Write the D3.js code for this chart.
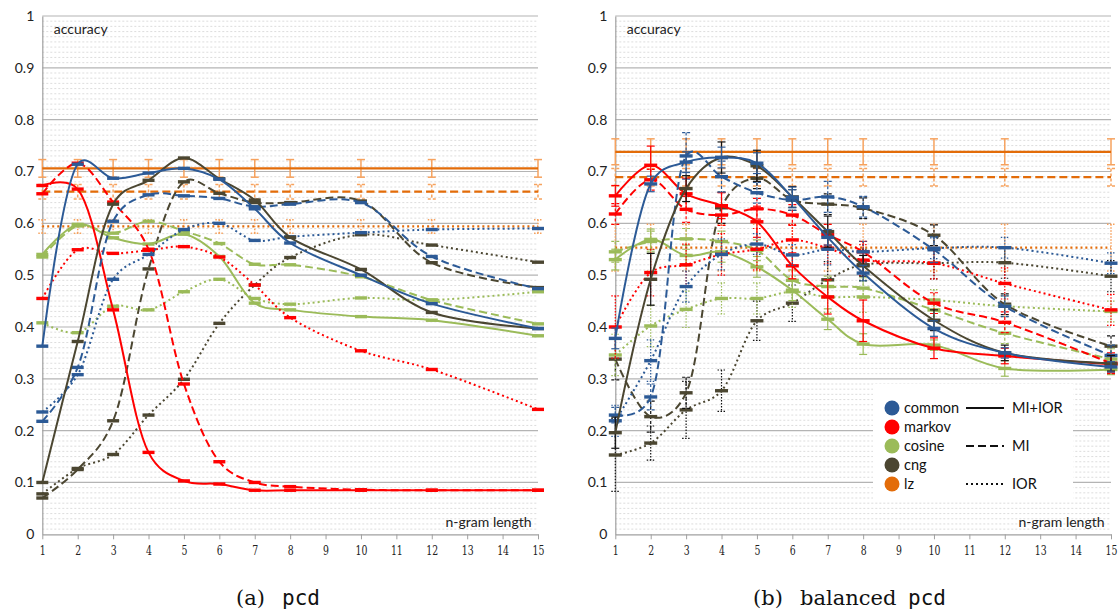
<!DOCTYPE html>
<html>
<head>
<meta charset="utf-8">
<script src="https://cdn.jsdelivr.net/npm/d3@7"></script>
<style>
  html, body { margin: 0; padding: 0; background: #fff; }
  svg { display: block; }
</style>
</head>
<body>
<svg id="chart" width="1119" height="611"></svg>
<script>
// ---- data -------------------------------------------------------------
const nGram = [1, 2, 3, 4, 5, 6, 7, 8, 10, 12, 15];
const xTickLabels = [1, 2, 3, 4, 5, 6, 7, 8, 9, 10, 11, 12, 13, 14, 15];
const yTickValues = [0, 0.1, 0.2, 0.3, 0.4, 0.5, 0.6, 0.7, 0.8, 0.9, 1];

const methods = ["common", "markov", "cosine", "cng", "lz"];
const methodColors = ["#2C5A96", "#FF0000", "#9BBB59", "#4B4631", "#E36C09"];
const variants = ["MI+IOR", "MI", "IOR"];

// (a) pcd
const pcdCommonBoth = [0.363, 0.714, 0.687, 0.697, 0.706, 0.685, 0.628, 0.562, 0.500, 0.445, 0.397];
const pcdCommonMI   = [0.218, 0.322, 0.604, 0.655, 0.653, 0.648, 0.632, 0.637, 0.640, 0.536, 0.474];
const pcdCommonIOR  = [0.236, 0.308, 0.492, 0.540, 0.588, 0.600, 0.567, 0.574, 0.582, 0.588, 0.590];
const pcdMarkovBoth = [0.673, 0.666, 0.433, 0.158, 0.103, 0.097, 0.085, 0.085, 0.085, 0.085, 0.085];
const pcdMarkovMI   = [0.657, 0.716, 0.641, 0.550, 0.290, 0.140, 0.100, 0.092, 0.086, 0.085, 0.085];
const pcdMarkovIOR  = [0.455, 0.549, 0.542, 0.548, 0.555, 0.535, 0.481, 0.418, 0.354, 0.318, 0.241];
const pcdCosineBoth = [0.540, 0.598, 0.572, 0.560, 0.579, 0.536, 0.446, 0.433, 0.420, 0.413, 0.383];
const pcdCosineMI   = [0.535, 0.595, 0.581, 0.604, 0.585, 0.561, 0.521, 0.520, 0.497, 0.452, 0.406];
const pcdCosineIOR  = [0.408, 0.389, 0.440, 0.433, 0.468, 0.492, 0.455, 0.444, 0.456, 0.452, 0.468];
const pcdCngBoth    = [0.100, 0.372, 0.637, 0.683, 0.726, 0.686, 0.645, 0.573, 0.511, 0.428, 0.397];
const pcdCngMI      = [0.070, 0.125, 0.219, 0.512, 0.680, 0.658, 0.640, 0.640, 0.643, 0.524, 0.476];
const pcdCngIOR     = [0.078, 0.127, 0.154, 0.230, 0.299, 0.407, 0.481, 0.534, 0.578, 0.558, 0.525];
const pcdLzBoth     = [0.706, 0.706, 0.706, 0.706, 0.706, 0.706, 0.706, 0.706, 0.706, 0.706, 0.706];
const pcdLzMI       = [0.661, 0.661, 0.661, 0.661, 0.661, 0.661, 0.661, 0.661, 0.661, 0.661, 0.661];
const pcdLzIOR      = [0.594, 0.594, 0.594, 0.594, 0.594, 0.594, 0.594, 0.594, 0.594, 0.594, 0.594];
const pcdLzBothErr  = [0.017, 0.017, 0.017, 0.017, 0.017, 0.017, 0.017, 0.017, 0.017, 0.017, 0.017];
const pcdLzMIErr    = [0.014, 0.014, 0.014, 0.014, 0.014, 0.014, 0.014, 0.014, 0.014, 0.014, 0.014];
const pcdLzIORErr   = [0.013, 0.013, 0.013, 0.013, 0.013, 0.013, 0.013, 0.013, 0.013, 0.013, 0.013];

// (b) balanced pcd
const balCommonBoth = [0.378, 0.676, 0.718, 0.727, 0.716, 0.650, 0.573, 0.504, 0.397, 0.350, 0.323];
const balCommonMI   = [0.230, 0.265, 0.730, 0.690, 0.659, 0.645, 0.651, 0.632, 0.549, 0.440, 0.345];
const balCommonIOR  = [0.219, 0.335, 0.478, 0.540, 0.560, 0.539, 0.550, 0.545, 0.552, 0.553, 0.523];
const balMarkovBoth = [0.653, 0.712, 0.657, 0.634, 0.603, 0.518, 0.458, 0.412, 0.359, 0.344, 0.328];
const balMarkovMI   = [0.618, 0.684, 0.627, 0.616, 0.628, 0.616, 0.578, 0.545, 0.446, 0.409, 0.330];
const balMarkovIOR  = [0.400, 0.505, 0.520, 0.540, 0.550, 0.568, 0.552, 0.529, 0.523, 0.484, 0.433];
const balCosineBoth = [0.530, 0.569, 0.538, 0.545, 0.516, 0.471, 0.415, 0.367, 0.365, 0.320, 0.318];
const balCosineMI   = [0.545, 0.565, 0.570, 0.565, 0.548, 0.490, 0.478, 0.475, 0.433, 0.388, 0.338];
const balCosineIOR  = [0.346, 0.402, 0.434, 0.455, 0.455, 0.468, 0.458, 0.458, 0.452, 0.440, 0.430];
const balCngBoth    = [0.196, 0.492, 0.667, 0.727, 0.711, 0.651, 0.584, 0.518, 0.413, 0.350, 0.330];
const balCngMI      = [0.338, 0.227, 0.273, 0.630, 0.687, 0.645, 0.637, 0.629, 0.577, 0.444, 0.363];
const balCngIOR     = [0.153, 0.176, 0.240, 0.277, 0.412, 0.446, 0.491, 0.520, 0.523, 0.524, 0.498];
const balLzBoth     = [0.738, 0.738, 0.738, 0.738, 0.738, 0.738, 0.738, 0.738, 0.738, 0.738, 0.738];
const balLzMI       = [0.689, 0.689, 0.689, 0.689, 0.689, 0.689, 0.689, 0.689, 0.689, 0.689, 0.689];
const balLzIOR      = [0.553, 0.553, 0.553, 0.553, 0.553, 0.553, 0.553, 0.553, 0.553, 0.553, 0.553];

// standard deviations over the balanced folds
const balCommonBothErr = [0.020, 0.015, 0.020, 0.020, 0.020, 0.020, 0.015, 0.015, 0.015, 0.010, 0.010];
const balCommonMIErr   = [0.015, 0.025, 0.045, 0.030, 0.020, 0.020, 0.030, 0.020, 0.025, 0.020, 0.020];
const balCommonIORErr  = [0.030, 0.040, 0.030, 0.030, 0.020, 0.020, 0.030, 0.020, 0.020, 0.020, 0.020];
const balMarkovBothErr = [0.020, 0.037, 0.030, 0.025, 0.030, 0.025, 0.033, 0.040, 0.020, 0.015, 0.015];
const balMarkovMIErr   = [0.020, 0.020, 0.025, 0.020, 0.020, 0.020, 0.020, 0.020, 0.020, 0.020, 0.020];
const balMarkovIORErr  = [0.060, 0.045, 0.040, 0.040, 0.040, 0.030, 0.030, 0.030, 0.030, 0.030, 0.030];
const balCosineBothErr = [0.020, 0.020, 0.020, 0.020, 0.020, 0.020, 0.020, 0.020, 0.010, 0.015, 0.010];
const balCosineMIErr   = [0.020, 0.020, 0.020, 0.020, 0.020, 0.020, 0.020, 0.020, 0.020, 0.020, 0.020];
const balCosineIORErr  = [0.040, 0.040, 0.035, 0.030, 0.030, 0.030, 0.030, 0.030, 0.020, 0.020, 0.020];
const balCngBothErr    = [0.030, 0.050, 0.025, 0.030, 0.030, 0.020, 0.030, 0.020, 0.020, 0.015, 0.015];
const balCngMIErr      = [0.040, 0.030, 0.030, 0.030, 0.020, 0.020, 0.020, 0.020, 0.020, 0.020, 0.020];
const balCngIORErr     = [0.070, 0.033, 0.055, 0.040, 0.038, 0.035, 0.035, 0.030, 0.030, 0.030, 0.030];
const balLzBothErr     = [0.025, 0.025, 0.025, 0.025, 0.025, 0.025, 0.025, 0.025, 0.025, 0.025, 0.025];
const balLzMIErr       = [0.017, 0.017, 0.017, 0.017, 0.017, 0.017, 0.017, 0.017, 0.017, 0.017, 0.017];
const balLzIORErr      = [0.045, 0.045, 0.045, 0.045, 0.045, 0.045, 0.045, 0.045, 0.045, 0.045, 0.045];

// ---- series tables ------------------------------------------------------
// [method, variant, values, errors]
const pcdSeries = [
  ["lz", "IOR", pcdLzIOR, pcdLzIORErr],
  ["lz", "MI", pcdLzMI, pcdLzMIErr],
  ["lz", "MI+IOR", pcdLzBoth, pcdLzBothErr],
  ["cng", "IOR", pcdCngIOR, null],
  ["cng", "MI", pcdCngMI, null],
  ["cosine", "IOR", pcdCosineIOR, null],
  ["cosine", "MI", pcdCosineMI, null],
  ["cosine", "MI+IOR", pcdCosineBoth, null],
  ["markov", "IOR", pcdMarkovIOR, null],
  ["markov", "MI", pcdMarkovMI, null],
  ["markov", "MI+IOR", pcdMarkovBoth, null],
  ["common", "IOR", pcdCommonIOR, null],
  ["common", "MI", pcdCommonMI, null],
  ["cng", "MI+IOR", pcdCngBoth, null],
  ["common", "MI+IOR", pcdCommonBoth, null]
];
const balSeries = [
  ["lz", "IOR", balLzIOR, balLzIORErr],
  ["lz", "MI", balLzMI, balLzMIErr],
  ["lz", "MI+IOR", balLzBoth, balLzBothErr],
  ["cng", "IOR", balCngIOR, balCngIORErr],
  ["cng", "MI", balCngMI, balCngMIErr],
  ["cosine", "IOR", balCosineIOR, balCosineIORErr],
  ["cosine", "MI", balCosineMI, balCosineMIErr],
  ["cosine", "MI+IOR", balCosineBoth, balCosineBothErr],
  ["markov", "IOR", balMarkovIOR, balMarkovIORErr],
  ["markov", "MI", balMarkovMI, balMarkovMIErr],
  ["markov", "MI+IOR", balMarkovBoth, balMarkovBothErr],
  ["common", "IOR", balCommonIOR, balCommonIORErr],
  ["common", "MI", balCommonMI, balCommonMIErr],
  ["cng", "MI+IOR", balCngBoth, balCngBothErr],
  ["common", "MI+IOR", balCommonBoth, balCommonBothErr]
];

// ---- drawing ----------------------------------------------------------
const svg = d3.select("#chart");
const yTop = 16, yBottom = 534.3;
const colorOf = d3.scaleOrdinal(methods, methodColors);
const dashOf = d3.scaleOrdinal(variants, [null, "8,4", "2,3"]);
const errDashOf = d3.scaleOrdinal(variants, [null, "3,2", "1.5,1.5"]);
const errColorOf = m => m === "cng" ? "#111" : (m === "lz" ? "#F6A25E" : colorOf(m));
const uiFont = "Lato, 'Open Sans', 'Liberation Sans', sans-serif";
const serifFont = "'DejaVu Serif', 'Liberation Serif', serif";
const monoFont = "'DejaVu Sans Mono', 'Liberation Mono', monospace";

// caption pieces: [text, x, font]
const panels = [
  { x0: 42.3, x1: 538, series: pcdSeries, legend: false, markW: 12,
    caption: [["(a)", 236, serifFont], ["pcd", 282, monoFont]] },
  { x0: 615.3, x1: 1111, series: balSeries, legend: true, markW: 13,
    caption: [["(b)", 753, serifFont], ["balanced", 800, serifFont], ["pcd", 908, monoFont]] }
];

panels.forEach(p => {
  const x = d3.scaleLinear().domain([1, 15]).range([p.x0, p.x1]);
  const y = d3.scaleLinear().domain([0, 1]).range([yBottom, yTop]);
  const g = svg.append("g");

  // minor gridlines every 0.01
  const minor = d3.range(1, 100).filter(i => i % 10 !== 0).map(i => i / 100);
  g.append("g").selectAll("line").data(minor).join("line")
    .attr("x1", p.x0).attr("x2", p.x1)
    .attr("y1", d => y(d)).attr("y2", d => y(d))
    .attr("stroke", "#d4d4d4").attr("stroke-width", 0.8)
    .attr("stroke-dasharray", "2,2");

  // major gridlines every 0.1
  g.append("g").selectAll("line").data(yTickValues.filter(v => v > 0)).join("line")
    .attr("x1", p.x0).attr("x2", p.x1)
    .attr("y1", d => y(d)).attr("y2", d => y(d))
    .attr("stroke", "#b4b4b4").attr("stroke-width", 1.2);

  // y axis
  const yAxis = g.append("g").attr("transform", `translate(${p.x0},0)`)
    .call(d3.axisLeft(y).tickValues(yTickValues).tickFormat(d3.format("~g")).tickSize(0).tickPadding(8));
  yAxis.select(".domain").attr("stroke", "#a0a0a0").attr("stroke-width", 1.2);
  yAxis.selectAll("text").attr("font-family", uiFont).attr("font-size", 14).attr("fill", "#222");

  // x axis, labels compressed horizontally around each tick
  const xAxis = g.append("g").attr("transform", `translate(0,${yBottom})`)
    .call(d3.axisBottom(x).tickValues(xTickLabels).tickSize(5).tickPadding(6).tickSizeOuter(0));
  xAxis.select(".domain").attr("stroke", "#a0a0a0").attr("stroke-width", 1.2);
  xAxis.selectAll("line").attr("stroke", "#a0a0a0");
  xAxis.selectAll("text")
    .attr("font-family", "'DejaVu Serif', 'Liberation Serif', serif")
    .attr("font-size", 13).attr("fill", "#222")
    .attr("text-anchor", "middle")
    .attr("transform", "scale(0.72,1)");

  // in-plot axis titles
  g.append("text").attr("x", p.x0 + 11.5).attr("y", 34)
    .attr("font-family", uiFont).attr("font-size", 14).attr("fill", "#222")
    .text("accuracy");
  g.append("text").attr("x", p.x1 - 6.5).attr("y", 527).attr("text-anchor", "end")
    .attr("font-family", uiFont).attr("font-size", 14).attr("fill", "#222")
    .text("n-gram length");

  const line = d3.line()
    .x((d, i) => x(nGram[i]))
    .y(d => y(d))
    .curve(d3.curveCatmullRom.alpha(0.25));

  p.series.forEach(([m, v, vals, errs]) => {
    const sg = g.append("g");
    const col = colorOf(m);
    // error bars
    if (errs) {
      const eb = sg.append("g")
        .attr("stroke", errColorOf(m))
        .attr("stroke-width", m === "lz" ? 1.5 : 1.2)
        .attr("stroke-dasharray", errDashOf(v))
        .attr("fill", "none");
      vals.forEach((val, i) => {
        const cx = x(nGram[i]);
        const hi = y(val + errs[i]), lo = y(val - errs[i]);
        eb.append("line").attr("x1", cx).attr("x2", cx).attr("y1", hi).attr("y2", lo);
        eb.append("line").attr("x1", cx - 4).attr("x2", cx + 4).attr("y1", hi).attr("y2", hi);
        eb.append("line").attr("x1", cx - 4).attr("x2", cx + 4).attr("y1", lo).attr("y2", lo);
      });
    }
    // smoothed line
    sg.append("path").datum(vals)
      .attr("d", line)
      .attr("fill", "none")
      .attr("stroke", col)
      .attr("stroke-width", m === "lz" ? 2.2 : 2)
      .attr("stroke-dasharray", dashOf(v));
    // dash markers
    if (m !== "lz") {
      sg.selectAll("rect").data(vals).join("rect")
        .attr("x", (d, i) => x(nGram[i]) - p.markW / 2)
        .attr("y", d => y(d) - 1.7)
        .attr("width", p.markW).attr("height", 3.4)
        .attr("fill", col);
    }
  });

  // legend
  if (p.legend) {
    const lg = g.append("g");
    lg.append("rect").attr("x", 873).attr("y", 384).attr("width", 200).attr("height", 118).attr("fill", "#fff");
    const rowY = [408, 427, 446, 465, 484];
    methods.forEach((m, i) => {
      lg.append("circle").attr("cx", 892).attr("cy", rowY[i]).attr("r", 7.5).attr("fill", colorOf(m));
      lg.append("text").attr("x", 904).attr("y", rowY[i]).attr("dy", "0.35em")
        .attr("font-family", uiFont).attr("font-size", 14.5).attr("fill", "#111").text(m);
    });
    const varRows = [408, 446, 484];
    variants.forEach((v, i) => {
      lg.append("line").attr("x1", 966).attr("x2", 1004).attr("y1", varRows[i]).attr("y2", varRows[i])
        .attr("stroke", "#111").attr("stroke-width", 2).attr("stroke-dasharray", dashOf(v));
      lg.append("text").attr("x", 1012).attr("y", varRows[i]).attr("dy", "0.35em")
        .attr("font-family", uiFont).attr("font-size", 14.5).attr("fill", "#111").text(v);
    });
  }

  // caption
  const cap = svg.append("text").attr("y", 605).attr("fill", "#111");
  p.caption.forEach(([t, cx, font]) => {
    cap.append("tspan").attr("x", cx)
      .attr("font-family", font)
      .attr("font-size", 21)
      .text(t);
  });
});
</script>
</body>
</html>
